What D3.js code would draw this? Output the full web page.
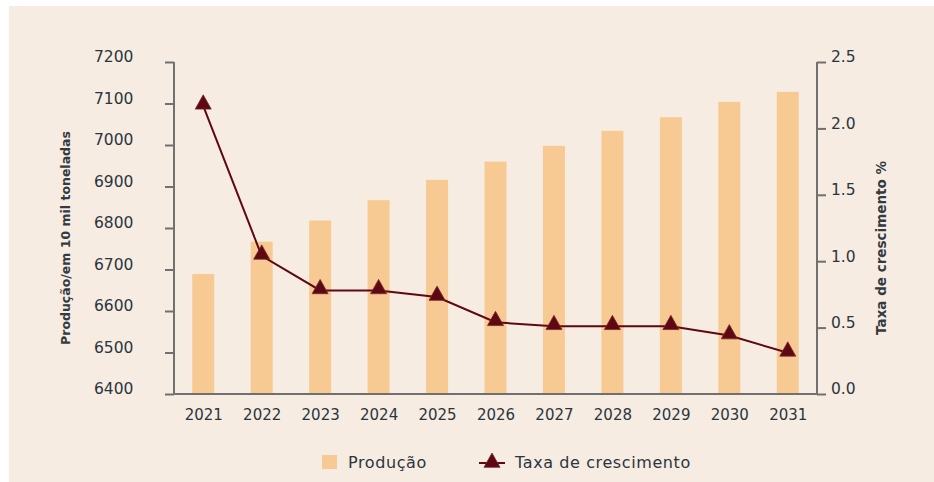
<!DOCTYPE html>
<html>
<head>
<meta charset="utf-8">
<script src="https://cdn.jsdelivr.net/npm/d3@7"></script>
<style>
    html, body { margin: 0; padding: 0; background: #ffffff; }
    #chart { width: 934px; height: 482px; }
    text { font-family: "DejaVu Sans", "Open Sans", sans-serif; }
</style>
</head>
<body>
<div id="chart"></div>
<script>
// chart data
const years = ['2021', '2022', '2023', '2024', '2025', '2026', '2027', '2028', '2029', '2030', '2031'];
const production = [6689, 6767, 6818, 6867, 6916, 6960, 6998, 7034, 7067, 7104, 7128];
const growthRate = [2.17, 1.04, 0.78, 0.78, 0.73, 0.54, 0.51, 0.51, 0.51, 0.44, 0.31];
const leftTicks = [6400, 6500, 6600, 6700, 6800, 6900, 7000, 7100, 7200];
const rightTicks = [0, 0.5, 1.0, 1.5, 2.0, 2.5];

const width = 934;
const height = 482;
const margin = { top: 62, right: 117, bottom: 88, left: 174 };
const innerWidth = width - margin.left - margin.right;
const innerHeight = height - margin.top - margin.bottom;

const textColor = '#2b3540';
const axisColor = '#707070';
const barColor = '#f6ca92';
const lineColor = '#5e0812';

const svg = d3.select('#chart')
    .append('svg')
    .attr('width', width)
    .attr('height', height);

// panel background
svg.append('rect')
    .attr('x', 9)
    .attr('y', 6)
    .attr('width', width - 9)
    .attr('height', height - 6)
    .attr('fill', '#f6ece1');

const g = svg.append('g')
    .attr('transform', `translate(${margin.left}, ${margin.top})`);

// scales
const x = d3.scalePoint()
    .domain(years)
    .range([0, innerWidth])
    .padding(0.5);

const yLeft = d3.scaleLinear()
    .domain([6400, 7200])
    .range([innerHeight, 0]);

const yRight = d3.scaleLinear()
    .domain([0, 2.5])
    .range([innerHeight, 0]);

const barWidth = x.step() * 0.376;

// bars
g.selectAll('rect.bar')
    .data(years)
    .enter()
    .append('rect')
    .attr('class', 'bar')
    .attr('x', d => x(d) - barWidth / 2)
    .attr('y', (d, i) => yLeft(production[i]))
    .attr('width', barWidth)
    .attr('height', (d, i) => innerHeight - yLeft(production[i]))
    .attr('fill', barColor);

// axes
const leftAxis = d3.axisLeft(yLeft)
    .tickValues(leftTicks)
    .tickSize(9)
    .tickFormat(d3.format('d'));

const leftAxisG = g.append('g').call(leftAxis)
    .attr('font-family', null)
    .attr('font-size', null);
leftAxisG.select('.domain').remove();
leftAxisG.selectAll('.tick line').attr('stroke', axisColor).attr('stroke-width', 2);
leftAxisG.selectAll('.tick text')
    .attr('x', -80)
    .attr('y', -5)
    .attr('text-anchor', 'start')
    .attr('fill', textColor)
    .style('font-size', '15.5px');

const rightAxis = d3.axisRight(yRight)
    .tickValues(rightTicks)
    .tickSize(9)
    .tickFormat(d3.format('.1f'));

const rightAxisG = g.append('g')
    .attr('transform', `translate(${innerWidth}, 0)`)
    .call(rightAxis)
    .attr('font-family', null)
    .attr('font-size', null);
rightAxisG.select('.domain').remove();
rightAxisG.selectAll('.tick line').attr('stroke', axisColor).attr('stroke-width', 2);
rightAxisG.selectAll('.tick text')
    .attr('x', 14)
    .attr('y', -5)
    .attr('fill', textColor)
    .style('font-size', '15.5px');

const bottomAxis = d3.axisBottom(x).tickSize(0).tickPadding(15);
const bottomAxisG = g.append('g')
    .attr('transform', `translate(0, ${innerHeight})`)
    .call(bottomAxis)
    .attr('font-family', null)
    .attr('font-size', null);
bottomAxisG.select('.domain').remove();
bottomAxisG.selectAll('.tick text')
    .attr('fill', textColor)
    .style('font-size', '15px');

// axis frame (left, bottom, right)
g.append('path')
    .attr('d', `M0,0V${innerHeight}H${innerWidth}V0`)
    .attr('fill', 'none')
    .attr('stroke', axisColor)
    .attr('stroke-width', 2);

// axis titles
g.append('text')
    .attr('transform', 'rotate(-90)')
    .attr('x', -(238 - margin.top))
    .attr('y', 66 - margin.left)
    .attr('dy', '0.35em')
    .attr('text-anchor', 'middle')
    .attr('fill', '#333a42')
    .style('font-size', '12.5px')
    .style('font-weight', 'bold')
    .text('Produção/em 10 mil toneladas');

g.append('text')
    .attr('transform', 'rotate(-90)')
    .attr('x', -(248 - margin.top))
    .attr('y', 881 - margin.left)
    .attr('dy', '0.35em')
    .attr('text-anchor', 'middle')
    .attr('fill', '#333a42')
    .style('font-size', '13.5px')
    .style('font-weight', 'bold')
    .text('Taxa de crescimento %');

// growth line
const line = d3.line()
    .x((d, i) => x(years[i]))
    .y(d => yRight(d));

g.append('path')
    .datum(growthRate)
    .attr('d', line)
    .attr('fill', 'none')
    .attr('stroke', lineColor)
    .attr('stroke-width', 2);

// triangle marker, the data point sits near the base
const triangle = 'M0,-11L8,3.3L-8,3.3Z';

g.selectAll('path.marker')
    .data(growthRate)
    .enter()
    .append('path')
    .attr('class', 'marker')
    .attr('d', triangle)
    .attr('transform', (d, i) => `translate(${x(years[i])}, ${yRight(d)})`)
    .attr('fill', lineColor)
    .attr('stroke', '#7a2a32')
    .attr('stroke-width', 0.8);

// legend
const legend = svg.append('g');

legend.append('rect')
    .attr('x', 322)
    .attr('y', 455)
    .attr('width', 15)
    .attr('height', 14)
    .attr('fill', barColor);

legend.append('text')
    .attr('x', 348)
    .attr('y', 462)
    .attr('dy', '0.35em')
    .attr('fill', textColor)
    .style('font-size', '16px')
    .style('letter-spacing', '0.6px')
    .text('Produção');

legend.append('line')
    .attr('x1', 479)
    .attr('x2', 505)
    .attr('y1', 463)
    .attr('y2', 463)
    .attr('stroke', lineColor)
    .attr('stroke-width', 2);

legend.append('path')
    .attr('d', triangle)
    .attr('transform', 'translate(492, 464)')
    .attr('fill', lineColor)
    .attr('stroke', '#7a2a32')
    .attr('stroke-width', 0.8);

legend.append('text')
    .attr('x', 515)
    .attr('y', 462)
    .attr('dy', '0.35em')
    .attr('fill', textColor)
    .style('font-size', '16px')
    .style('letter-spacing', '0.6px')
    .text('Taxa de crescimento');
</script>
</body>
</html>
